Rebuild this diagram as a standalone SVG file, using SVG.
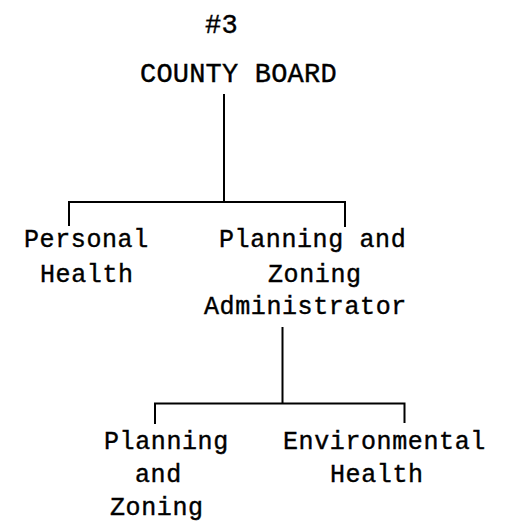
<svg xmlns="http://www.w3.org/2000/svg" width="510" height="523" viewBox="0 0 510 523">
<style>
text{font-family:"Liberation Mono","DejaVu Sans Mono",monospace;fill:#000;stroke:#000;stroke-width:0.4px;font-size:25px;letter-spacing:0.6px}
.big{font-size:27px;letter-spacing:0.2px}
.c{stroke:#000;stroke-width:2;fill:none;stroke-linecap:square}
</style>
<rect width="510" height="523" fill="#fff"/>
<g id="title"><text class="big" x="205" y="33">#3</text></g>
<g id="county-board"><text class="big" x="140" y="82">COUNTY BOARD</text></g>
<g id="personal-health"><text x="24" y="247">Personal</text><text x="40" y="282">Health</text></g>
<g id="pz-admin"><text x="219" y="247">Planning and</text><text x="268" y="282">Zoning</text><text x="204" y="314">Administrator</text></g>
<g id="planning-zoning"><text x="104" y="449">Planning</text><text x="135" y="482">and</text><text x="110" y="515">Zoning</text></g>
<g id="env-health"><text x="283" y="449">Environmental</text><text x="330" y="482">Health</text></g>
<g id="connectors">
<path class="c" d="M224 95V202M69 225V202H345V226"/>
<path class="c" d="M282.5 328V403.5M155 423V403.5H404.5V422"/>
</g>
</svg>
